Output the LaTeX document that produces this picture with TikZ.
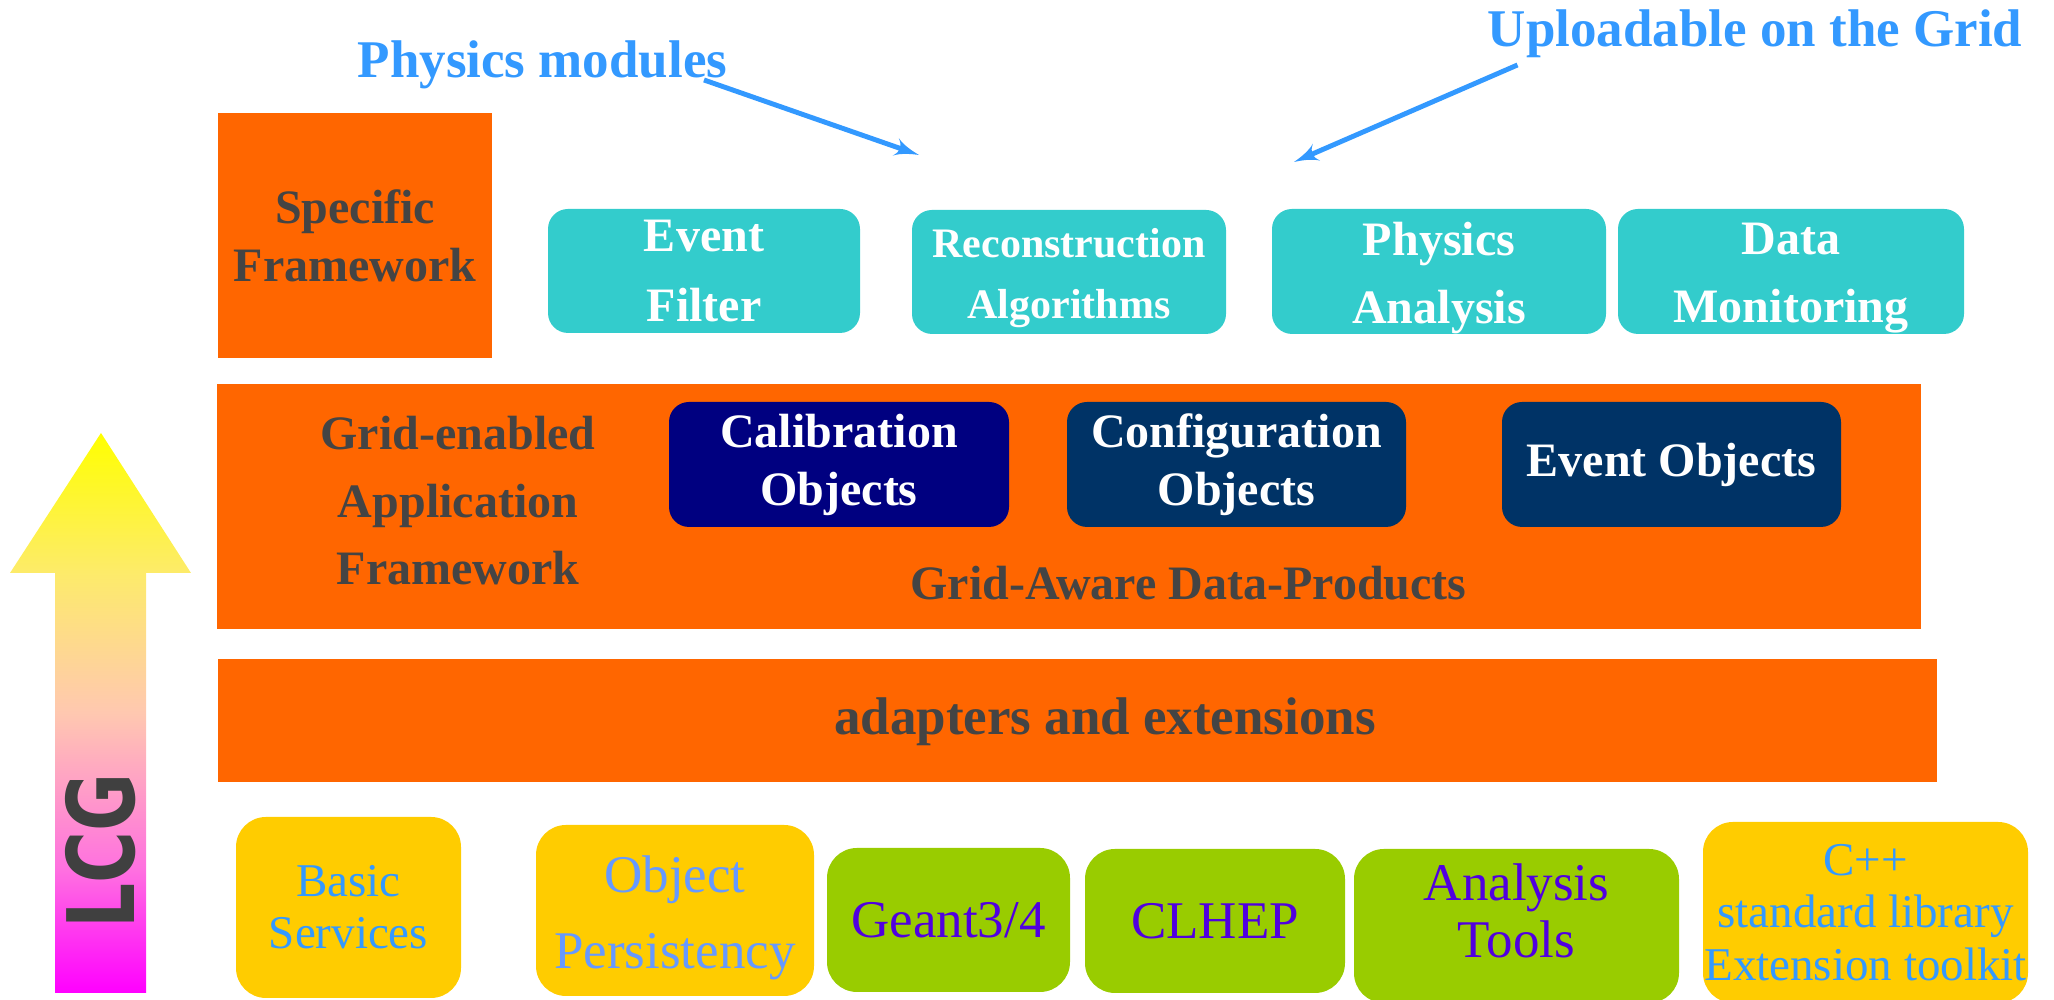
\documentclass[tikz,border=0pt]{standalone}
\usepackage{fontspec}
\setmainfont{Liberation Serif}
\newfontfamily\lcgfont{DejaVu Sans}
\usepackage{graphicx}
\usepackage{tikz}
\usetikzlibrary{shapes,arrows}
\usetikzlibrary{positioning}
\definecolor{orangec}{HTML}{FF6600}
\definecolor{tealc}{HTML}{33CCCC}
\definecolor{navyc}{HTML}{000080}
\definecolor{deepc}{HTML}{003366}
\definecolor{darkc}{HTML}{444444}
\definecolor{skyc}{HTML}{3399FF}
\definecolor{goldc}{HTML}{FFCC00}
\definecolor{limec}{HTML}{99CC00}
\definecolor{violetc}{HTML}{5000E0}
\definecolor{periwinklec}{HTML}{6699FF}
\definecolor{paleyc}{RGB}{253,235,106}
\definecolor{peachc}{RGB}{255,200,176}
\definecolor{pinkc}{RGB}{255,112,224}
\definecolor{lcgc}{HTML}{404040}
\pgfdeclareverticalshading{lcgshade}{100bp}{color(0bp)=(magenta); color(25bp)=(magenta);
color(36bp)=(pinkc); color(50bp)=(peachc); color(62.5bp)=(paleyc); color(75bp)=(yellow);
color(100bp)=(yellow)}
\newcommand{\setsz}[2]{\fontsize{#1}{#2}\selectfont}
\tikzstyle{band} = [rectangle, fill=orangec, inner sep=0pt]
\tikzstyle{bandtext} = [text=darkc, font=\bfseries\setsz{13.66}{19.2}, inner sep=0pt]
\tikzstyle{title} = [text=skyc, font=\bfseries\setsz{15.08}{18}, inner sep=0pt]
\tikzstyle{module} = [rectangle, rounded corners=0.2cm, fill=tealc, text=white, align=center,
inner sep=0pt, font=\bfseries\setsz{13.66}{19.35}]
\tikzstyle{modtext} = [text=white, align=center, inner sep=0pt, font=\bfseries\setsz{13.66}{19.35}]
\tikzstyle{product} = [rectangle, rounded corners=0.2cm, fill=deepc, text=white, align=center,
inner sep=0pt, font=\bfseries\setsz{13.66}{16.5}]
\tikzstyle{library} = [rectangle, rounded corners=0.3cm, inner sep=0pt, align=center,
font=\setsz{15.08}{16.2}]
\tikzstyle{libtext} = [align=center, inner sep=0pt, font=\setsz{15.08}{16.2}]
\tikzstyle{pointer} = [draw, -latex', color=skyc, line width=1.4pt]

\begin{document}
\begin{tikzpicture}
	\useasboundingbox (0,0) rectangle (20.54,10);
	%% LCG arrow
	\shade [shading=lcgshade]
		(1.01,5.67) -- (1.91,4.27) -- (1.46,4.27) -- (1.46,0.07) -- (0.55,0.07) -- (0.55,4.27) -- (0.10,4.27) -- cycle;
	\node [rotate=90, text=lcgc, font=\lcgfont\bfseries\setsz{26.5}{30}, inner sep=0pt] (lcg) at (1.01,1.49) {\scalebox{0.76}[1]{LCG}};
	%% Titles
	\node [title, anchor=base] (physmod) at (5.425,9.22) {Physics modules};
	\node [title, anchor=base] (upload) at (17.55,9.53) {Uploadable on the Grid};
	\coordinate (physfrom) at (7.04,9.20);
	\coordinate (physto) at (9.19,8.45);
	\coordinate (upfrom) at (15.175,9.35);
	\coordinate (upto) at (12.94,8.38);
	\path [pointer] (physfrom) -- (physto);
	\path [pointer] (upfrom) -- (upto);
	%% Specific framework
	\node [rectangle, fill=orangec, text=darkc, align=center, minimum width=2.74cm, minimum height=2.45cm,
		font=\bfseries\setsz{13.66}{16.5}] (specific) at (3.55,7.645) {Specific\\Framework};
	\node [module, minimum width=3.12cm, minimum height=1.24cm, font=\bfseries\setsz{13.66}{19.9}] (filter) at (7.04,7.29) {Event\\Filter};
	\node [module, minimum width=3.14cm, minimum height=1.24cm] (reco) at (10.69,7.28) {};
	\node [modtext, font=\bfseries\setsz{11.95}{17.4}, below=0.18cm of reco.north] (recolbl) {Reconstruction\\Algorithms};
	\node [module, minimum width=3.34cm, minimum height=1.25cm] (analysis) at (14.39,7.285) {};
	\node [modtext, below=0.13cm of analysis.north] (analysislbl) {Physics\\Analysis};
	\node [module, minimum width=3.46cm, minimum height=1.25cm] (monitor) at (17.91,7.285) {};
	\node [modtext, below=0.14cm of monitor.north] (monitorlbl) {Data\\Monitoring};
	%% Application framework
	\node [band, minimum width=17.04cm, minimum height=2.45cm] (gridband) at (10.69,4.935) {};
	\node [bandtext, align=center] (gridapp) at (4.58,4.99) {Grid-enabled\\Application\\Framework};
	\node [product, fill=navyc, minimum width=3.40cm, minimum height=1.25cm] (calib) at (8.39,5.355) {Calibration\\Objects};
	\node [product, minimum width=3.39cm, minimum height=1.25cm] (config) at (12.365,5.355) {Configuration\\Objects};
	\node [product, minimum width=3.39cm, minimum height=1.25cm] (evobj) at (16.715,5.355) {Event Objects};
	\node [bandtext, anchor=base] (awarelbl) at (11.885,4.00) {Grid-Aware Data-Products};
	%% Adapters
	\node [band, minimum width=17.19cm, minimum height=1.23cm] (adapters) at (10.775,2.795) {};
	\node [bandtext, font=\bfseries\setsz{15.08}{18}, anchor=base] (adaptlbl) at (11.05,2.65) {adapters and extensions};
	%% Libraries
	\node [library, fill=goldc, text=skyc, minimum width=2.25cm, minimum height=1.81cm, font=\setsz{13.37}{14.8}] (basic) at (3.485,0.925) {Basic\\Services};
	\node [library, fill=goldc, minimum width=2.78cm, minimum height=1.71cm] (persist) at (6.75,0.895) {};
	\node [libtext, text=periwinklec, font=\setsz{15.08}{21.6}, below=0.31cm of persist.north] (persistlbl) {Object\\Persistency};
	\node [library, fill=limec, text=violetc, minimum width=2.43cm, minimum height=1.44cm] (geant) at (9.485,0.80) {Geant3/4};
	\node [library, fill=limec, text=violetc, minimum width=2.60cm, minimum height=1.44cm] (clhep) at (12.15,0.79) {CLHEP};
	\node [library, fill=limec, minimum width=3.25cm, minimum height=1.54cm] (tools) at (15.165,0.74) {};
	\node [libtext, text=violetc, below=0.15cm of tools.north] (toolslbl) {Analysis\\Tools};
	\node [library, fill=goldc, text=skyc, minimum width=3.25cm, minimum height=1.81cm, font=\setsz{13.37}{14.9}] (cpp) at (18.655,0.875) {C++\\standard library\\Extension toolkit};
\end{tikzpicture}
\end{document}
